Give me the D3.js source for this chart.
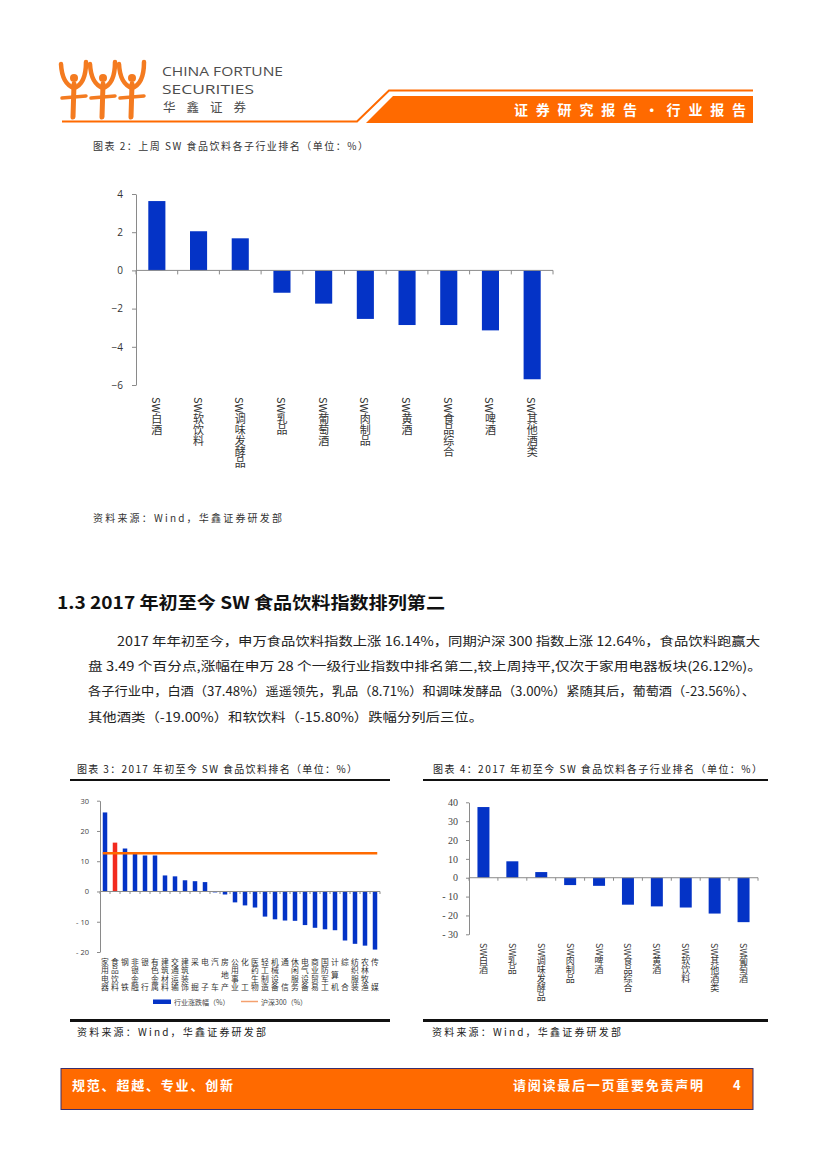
<!DOCTYPE html>
<html><head><meta charset="utf-8">
<script src="https://cdn.jsdelivr.net/npm/d3@7"></script>
<style>
html,body{margin:0;padding:0;background:#fff;}
svg{display:block;}
.vt{writing-mode:vertical-rl;text-orientation:mixed;}
</style></head>
<body>
<svg id="page" width="827" height="1169"></svg>
<script>
// ---------- DATA ----------
const c2Cats = ["SW白酒","SW软饮料","SW调味发酵品","SW乳品","SW葡萄酒","SW肉制品","SW黄酒","SW食品综合","SW啤酒","SW其他酒类"];
const c2Vals = [3.63, 2.05, 1.68, -1.17, -1.74, -2.54, -2.86, -2.86, -3.14, -5.70];
const c2Ticks = [-6, -4, -2, 0, 2, 4];

const c3Cats = ["家用电器","食品饮料","钢铁","非银金融","银行","有色金属","建筑材料","交通运输","建筑装饰","采掘","电子","汽车","房地产","公用事业","化工","医药生物","轻工制造","机械设备","通信","休闲服务","电气设备","商业贸易","国防军工","计算机","综合","纺织服装","农林牧渔","传媒"];
const c3Vals = [26.12, 16.14, 14.2, 12.5, 11.9, 11.9, 5.3, 5.0, 3.7, 3.4, 3.1, -0.3, -1.0, -3.6, -4.6, -5.3, -8.3, -9.2, -9.6, -9.7, -11.1, -12.0, -12.5, -12.8, -16.2, -17.3, -17.9, -19.2];
const c3Highlight = "食品饮料";
const hs300 = 12.64;
const c3Ticks = [-20, -10, 0, 10, 20, 30];
const c3Legend = ["行业涨跌幅（%）", "沪深300（%）"];

const c4Cats = ["SW白酒","SW乳品","SW调味发酵品","SW肉制品","SW啤酒","SW食品综合","SW黄酒","SW软饮料","SW其他酒类","SW葡萄酒"];
const c4Vals = [37.48, 8.71, 3.00, -3.9, -4.3, -14.3, -15.2, -15.80, -19.00, -23.56];
const c4Ticks = [-30, -20, -10, 0, 10, 20, 30, 40];

const paraLines = [
  "2017 年年初至今，申万食品饮料指数上涨 16.14%，同期沪深 300 指数上涨 12.64%，食品饮料跑赢大",
  "盘 3.49 个百分点,涨幅在申万 28 个一级行业指数中排名第二,较上周持平,仅次于家用电器板块(26.12%)。",
  "各子行业中，白酒（37.48%）遥遥领先，乳品（8.71%）和调味发酵品（3.00%）紧随其后，葡萄酒（-23.56%）、",
  "其他酒类（-19.00%）和软饮料（-15.80%）跌幅分列后三位。"
];

// ---------- STYLE ----------
const CJK = "'Noto Sans CJK SC','Noto Sans',sans-serif";
const LAT = "'Open Sans','Liberation Sans',sans-serif";
const SERIFNUM = "'Liberation Serif','DejaVu Serif',serif";
const BLUE = "#0433C6", RED = "#F22A1E", ORANGE = "#FF6A00", AXIS = "#8a8a8a", TXT = "#333";

const svg = d3.select("#page");

// ---------- HEADER ----------
const hdr = svg.append("g");
[74, 103, 132].forEach(cx => {
  const g = hdr.append("g").attr("fill","none").attr("stroke","#F47B20").attr("stroke-linecap","round");
  g.append("path").attr("d", `M${cx},84 L${cx-1},117`).attr("stroke-width",5);
  g.append("path").attr("d", `M${cx},88 Q${cx-12},84 ${cx-13},64`).attr("stroke-width",4.5);
  g.append("path").attr("d", `M${cx},88 Q${cx+12},84 ${cx+12},62`).attr("stroke-width",4.5);
  g.append("path").attr("d", `M${cx-12},98 L${cx+12},96`).attr("stroke-width",3.5);
  g.append("circle").attr("cx",cx).attr("cy",78).attr("r",4).attr("fill","#F47B20").attr("stroke","none");
});
hdr.append("text").attr("x",162).attr("y",76).attr("font-family",LAT)
  .attr("font-size",13.5).attr("fill","#4d4d4d").attr("textLength",121).attr("lengthAdjust","spacingAndGlyphs").text("CHINA FORTUNE");
hdr.append("text").attr("x",162).attr("y",94).attr("font-family",LAT)
  .attr("font-size",13.5).attr("fill","#4d4d4d").attr("textLength",92).attr("lengthAdjust","spacingAndGlyphs").text("SECURITIES");
hdr.append("text").attr("x",163).attr("y",112).attr("font-family",CJK)
  .attr("font-size",12.5).attr("fill","#4d4d4d").attr("textLength",83).attr("lengthAdjust","spacing").text("华鑫证券");
hdr.append("path").attr("d","M62,121.5 L357,121.5 L389,90.5 L753,90.5").attr("fill","none").attr("stroke",ORANGE).attr("stroke-width",2);
hdr.append("path").attr("d","M366,123 L393,96 L753,96 L753,123 Z").attr("fill",ORANGE);
hdr.append("text").attr("x",746).attr("y",115).attr("text-anchor","end").attr("font-family",CJK).attr("font-weight","bold")
  .attr("font-size",14).attr("fill","#fff").attr("textLength",232).attr("lengthAdjust","spacing").text("证券研究报告·行业报告");

// ---------- CHART 2 ----------
svg.append("text").attr("x",93).attr("y",150).attr("font-family",CJK).attr("font-size",10).attr("fill",TXT)
  .attr("textLength",275).attr("lengthAdjust","spacing").text("图表 2：上周 SW 食品饮料各子行业排名（单位：%）");
{
  const x = d3.scaleBand().domain(c2Cats).range([136,553]).paddingInner(0.59).paddingOuter(0.295);
  const y = d3.scaleLinear().domain([-6,4]).range([385,194]);
  const g = svg.append("g");
  g.selectAll("rect.bar").data(c2Vals).join("rect")
    .attr("x",(d,i)=>x(c2Cats[i])).attr("width",x.bandwidth())
    .attr("y",d=>y(Math.max(0,d))).attr("height",d=>Math.abs(y(d)-y(0))).attr("fill",BLUE);
  const ya = g.append("g").attr("transform","translate(136,0)")
    .call(d3.axisLeft(y).tickValues(c2Ticks).tickSize(4).tickSizeOuter(0).tickPadding(9).tickFormat(d3.format("d")));
  ya.select(".domain").attr("stroke",AXIS);
  ya.selectAll(".tick line").attr("stroke",AXIS);
  ya.selectAll("text").attr("font-family",LAT).attr("font-size",10).attr("fill",TXT);
  g.append("line").attr("x1",136).attr("x2",553).attr("y1",y(0)).attr("y2",y(0)).attr("stroke",AXIS);
  d3.range(c2Cats.length+1).forEach(i=>{
    const xx = 136 + i*x.step();
    g.append("line").attr("x1",xx).attr("x2",xx).attr("y1",y(0)).attr("y2",y(0)+4).attr("stroke",AXIS);
  });
  g.selectAll("text.lab").data(c2Cats).join("text").attr("class","lab vt")
    .attr("x",d=>x(d)+x.bandwidth()/2).attr("y",397)
    .attr("font-family",CJK).attr("font-size",11).attr("fill",TXT).text(d=>d);
}
svg.append("text").attr("x",93).attr("y",522).attr("font-family",CJK).attr("font-size",10).attr("fill",TXT)
  .attr("textLength",189).attr("lengthAdjust","spacing").text("资料来源：Wind，华鑫证券研发部");

// ---------- SECTION TEXT ----------
svg.append("text").attr("x",57).attr("y",609).attr("font-family",CJK).attr("font-weight","bold").attr("font-size",17.5).attr("fill","#111")
  .attr("textLength",388).attr("lengthAdjust","spacingAndGlyphs").text("1.3 2017 年初至今 SW 食品饮料指数排列第二");
const paraX = [117,88,88,88], paraW = [643,674,667,395], paraY = [646,671,696,722];
paraLines.forEach((t,i)=>{
  svg.append("text").attr("x",paraX[i]).attr("y",paraY[i]).attr("font-family",CJK).attr("font-size",12.5).attr("fill","#222")
    .attr("textLength",paraW[i]).attr("lengthAdjust","spacingAndGlyphs").text(t);
});

// ---------- CHART 3 ----------
svg.append("text").attr("x",77).attr("y",773).attr("font-family",CJK).attr("font-size",10).attr("fill","#222")
  .attr("textLength",280).attr("lengthAdjust","spacing").text("图表 3：2017 年初至今 SW 食品饮料排名（单位：%）");
svg.append("line").attr("x1",70).attr("x2",390).attr("y1",780).attr("y2",780).attr("stroke","#111").attr("stroke-width",2);
svg.append("line").attr("x1",70).attr("x2",390).attr("y1",1020.5).attr("y2",1020.5).attr("stroke","#111").attr("stroke-width",3);
{
  const x = d3.scaleBand().domain(c3Cats).range([100,380]).paddingInner(0.55).paddingOuter(0.275);
  const y = d3.scaleLinear().domain([-20,30]).range([952,800.7]);
  const g = svg.append("g");
  g.selectAll("rect.bar").data(c3Vals).join("rect")
    .attr("x",(d,i)=>x(c3Cats[i])).attr("width",x.bandwidth())
    .attr("y",d=>y(Math.max(0,d))).attr("height",d=>Math.abs(y(d)-y(0)))
    .attr("fill",(d,i)=>c3Cats[i]===c3Highlight?RED:BLUE);
  const ya = g.append("g").attr("transform","translate(100,0)")
    .call(d3.axisLeft(y).tickValues(c3Ticks).tickSize(3).tickSizeOuter(0).tickPadding(8)
      .tickFormat(d=> d<0 ? "- "+Math.abs(d) : String(d)));
  ya.select(".domain").attr("stroke",AXIS);
  ya.selectAll(".tick line").attr("stroke",AXIS);
  ya.selectAll("text").attr("font-family",LAT).attr("font-size",7.5).attr("fill","#444");
  g.append("line").attr("x1",100).attr("x2",380).attr("y1",y(0)).attr("y2",y(0)).attr("stroke",AXIS);
  d3.range(c3Cats.length+1).forEach(i=>{
    const xx = 100 + i*x.step();
    g.append("line").attr("x1",xx).attr("x2",xx).attr("y1",y(0)).attr("y2",y(0)+2.5).attr("stroke",AXIS);
  });
  g.append("line").attr("x1",x(c3Cats[0])).attr("x2",x(c3Cats[c3Cats.length-1])+x.bandwidth())
    .attr("y1",y(hs300)).attr("y2",y(hs300)).attr("stroke",ORANGE).attr("stroke-width",2.5);
  // vertical labels, characters distributed over the 4-row height
  const fs3 = 7.8, span3 = 25.5;
  c3Cats.forEach(c=>{
    const n = Array.from(c).length;
    const ls = n > 1 ? span3/(n-1) - fs3 : 0;
    g.append("text").attr("class","vt").attr("x", x(c)+x.bandwidth()/2).attr("y", 958)
      .style("letter-spacing", ls+"px")
      .attr("font-family",CJK).attr("font-size",fs3).attr("fill","#333").text(c);
  });
  g.append("rect").attr("x",153).attr("y",999.5).attr("width",18).attr("height",4.5).attr("fill",BLUE);
  g.append("text").attr("x",174).attr("y",1002).attr("dominant-baseline","central").attr("font-family",CJK).attr("font-size",7)
    .attr("fill","#444").text(c3Legend[0]);
  g.append("line").attr("x1",241).attr("x2",258).attr("y1",1001.5).attr("y2",1001.5).attr("stroke","#F4A06E").attr("stroke-width",1.5);
  g.append("text").attr("x",261).attr("y",1002).attr("dominant-baseline","central").attr("font-family",CJK).attr("font-size",7)
    .attr("fill","#444").text(c3Legend[1]);
}
svg.append("text").attr("x",77).attr("y",1036).attr("font-family",CJK).attr("font-size",10).attr("fill","#222")
  .attr("textLength",189).attr("lengthAdjust","spacing").text("资料来源：Wind，华鑫证券研发部");

// ---------- CHART 4 ----------
svg.append("text").attr("x",433).attr("y",773).attr("font-family",CJK).attr("font-size",10).attr("fill","#222")
  .attr("textLength",329).attr("lengthAdjust","spacing").text("图表 4：2017 年初至今 SW 食品饮料各子行业排名（单位：%）");
svg.append("line").attr("x1",423).attr("x2",768).attr("y1",780).attr("y2",780).attr("stroke","#111").attr("stroke-width",2);
svg.append("line").attr("x1",423).attr("x2",768).attr("y1",1020.5).attr("y2",1020.5).attr("stroke","#111").attr("stroke-width",3);
{
  const x = d3.scaleBand().domain(c4Cats).range([469,758]).paddingInner(0.585).paddingOuter(0.2925);
  const y = d3.scaleLinear().domain([-30,40]).range([934.3,802.3]);
  const g = svg.append("g");
  g.selectAll("rect.bar").data(c4Vals).join("rect")
    .attr("x",(d,i)=>x(c4Cats[i])).attr("width",x.bandwidth())
    .attr("y",d=>y(Math.max(0,d))).attr("height",d=>Math.abs(y(d)-y(0))).attr("fill",BLUE);
  const ya = g.append("g").attr("transform","translate(469,0)")
    .call(d3.axisLeft(y).tickValues(c4Ticks).tickSize(3).tickSizeOuter(0).tickPadding(8)
      .tickFormat(d=> d<0 ? "- "+Math.abs(d) : String(d)));
  ya.select(".domain").attr("stroke",AXIS);
  ya.selectAll(".tick line").attr("stroke",AXIS);
  ya.selectAll("text").attr("font-family",SERIFNUM).attr("font-size",10).attr("fill","#444");
  g.append("line").attr("x1",469).attr("x2",758).attr("y1",y(0)).attr("y2",y(0)).attr("stroke",AXIS);
  d3.range(c4Cats.length+1).forEach(i=>{
    const xx = 469 + i*x.step();
    g.append("line").attr("x1",xx).attr("x2",xx).attr("y1",y(0)).attr("y2",y(0)+3).attr("stroke",AXIS);
  });
  g.selectAll("text.lab").data(c4Cats).join("text").attr("class","lab vt")
    .attr("x",d=>x(d)+x.bandwidth()/2).attr("y",943)
    .attr("font-family",CJK).attr("font-size",9).attr("fill","#333").text(d=>d);
}
svg.append("text").attr("x",432).attr("y",1036).attr("font-family",CJK).attr("font-size",10).attr("fill","#222")
  .attr("textLength",189).attr("lengthAdjust","spacing").text("资料来源：Wind，华鑫证券研发部");

// ---------- FOOTER ----------
svg.append("rect").attr("x",61).attr("y",1068.5).attr("width",692).attr("height",41).attr("fill",ORANGE).attr("stroke","#3a2f6e").attr("stroke-width",1);
svg.append("text").attr("x",72).attr("y",1090).attr("font-family",CJK).attr("font-weight","bold").attr("font-size",13)
  .attr("fill","#fff").attr("textLength",161).attr("lengthAdjust","spacing").text("规范、超越、专业、创新");
svg.append("text").attr("x",703).attr("y",1090).attr("text-anchor","end").attr("font-family",CJK).attr("font-weight","bold").attr("font-size",13)
  .attr("fill","#fff").attr("textLength",190).attr("lengthAdjust","spacing").text("请阅读最后一页重要免责声明");
svg.append("text").attr("x",733).attr("y",1090).attr("font-family",CJK).attr("font-weight","bold").attr("font-size",13)
  .attr("fill","#fff").text("4");
</script>
</body></html>
